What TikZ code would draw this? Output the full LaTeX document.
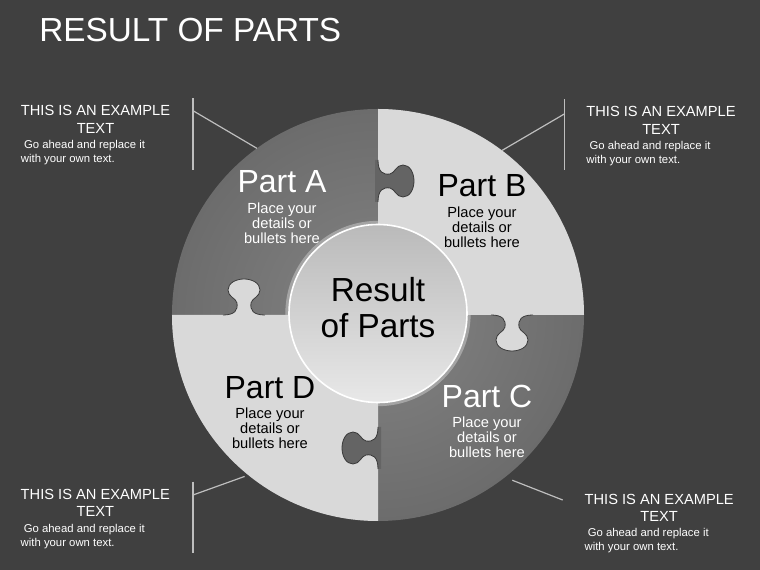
\documentclass[tikz,border=0pt]{standalone}
\usepackage{fontspec}
\setmainfont{Liberation Sans}
\usetikzlibrary{positioning}
\definecolor{slidebg}{RGB}{64,64,64}
\definecolor{partlight}{RGB}{217,217,217}
\definecolor{partdark}{RGB}{100,100,100}
\definecolor{partinner}{RGB}{132,132,132}
\definecolor{partouter}{RGB}{84,84,84}
\definecolor{knobline}{RGB}{58,58,58}
\definecolor{calloutline}{RGB}{190,190,190}
\definecolor{hubtop}{RGB}{186,186,186}
\definecolor{hubbottom}{RGB}{232,232,232}
\pgfdeclareradialshading{partshade}{\pgfpoint{0bp}{0bp}}{color(0bp)=(partinner); color(50bp)=(partouter)}

% one puzzle knob: position, rotation, fill colour
\newcommand{\knob}[3]{%
  \begin{scope}[shift={#1}, rotate=#2]
    \fill[#3] (-21,0) .. controls (-9,0) and (-6,5) .. (-7,12) .. controls (-8,17) and (-16,18) .. (-16,25)
      .. controls (-16,32) and (-8,36) .. (0,36) .. controls (8,36) and (16,32) .. (16,25)
      .. controls (16,18) and (8,17) .. (7,12) .. controls (6,5) and (9,0) .. (21,0)
      -- (21,-3) -- (-21,-3) -- cycle;
    \draw[knobedge] (-21,0) .. controls (-9,0) and (-6,5) .. (-7,12) .. controls (-8,17) and (-16,18) .. (-16,25)
      .. controls (-16,32) and (-8,36) .. (0,36) .. controls (8,36) and (16,32) .. (16,25)
      .. controls (16,18) and (8,17) .. (7,12) .. controls (6,5) and (9,0) .. (21,0);
  \end{scope}}

\begin{document}
\begin{tikzpicture}[
    x=0.75pt, y=0.75pt,
    parttitle/.style={font=\fontsize{24}{26}\selectfont, inner sep=0pt},
    partdetail/.style={font=\fontsize{11}{11.25}\selectfont, align=center, inner sep=0pt},
    callhead/.style={text=white, font=\fontsize{11}{13}\selectfont, align=center, inner sep=0pt},
    callbody/.style={text=white, font=\fontsize{8.5}{10.5}\selectfont, align=left, inner sep=0pt},
    callline/.style={draw=calloutline, line width=0.9pt},
    knobedge/.style={draw=knobline, line width=0.6pt},
    hubglow/.style={draw=partlight, line width=2.5pt, opacity=0.45},
]
    \useasboundingbox (-378,-255) rectangle (382,315);
    \fill[slidebg] (-378,-255) rectangle (382,315);

    \node[anchor=west, text=white, inner sep=0pt, font=\fontsize{25}{28}\selectfont] (title) at (-339,285) {RESULT OF PARTS};

    % the wheel
    \node[circle, minimum size=309pt, inner sep=0pt, outer sep=0pt, shade, shading=partshade] (wheel) at (0,0) {};
    \fill[partlight] (0,0) -- (206,0) arc[start angle=0, end angle=90, radius=206] -- cycle;
    \fill[partlight] (0,0) -- (-206,0) arc[start angle=180, end angle=270, radius=206] -- cycle;

    \knob{(0,134)}{-90}{partdark}
    \knob{(134,0)}{180}{partlight}
    \knob{(0,-133)}{90}{partdark}
    \knob{(-134,0)}{0}{partlight}

    \draw[hubglow] (0,1.5) circle[radius=91];
    \node[circle, minimum size=133.5pt, inner sep=0pt, top color=hubtop, bottom color=hubbottom, draw=white, line width=1.2pt] (hub) at (0,1.5) {};
    \node[align=center, inner sep=0pt, font=\fontsize{25}{27}\selectfont] (hubtext) at ([yshift=4.4pt]hub.center) {Result\\of Parts};

    % part labels
    \node[parttitle, text=white] (partA) at (-96,133) {Part A};
    \node[partdetail, text=white, below=6.75pt of partA] (detailA) {Place your\\details or\\bullets here};
    \node[parttitle] (partB) at (104,129) {Part B};
    \node[partdetail, below=6.75pt of partB] (detailB) {Place your\\details or\\bullets here};
    \node[parttitle, text=white] (partC) at (109,-81) {Part C};
    \node[partdetail, text=white, below=6.75pt of partC] (detailC) {Place your\\details or\\bullets here};
    \node[parttitle] (partD) at (-108,-72.5) {Part D};
    \node[partdetail, below=6.75pt of partD] (detailD) {Place your\\details or\\bullets here};

    % callouts
    \node[callhead] (tlhead) at (-282.5,195.7) {THIS IS AN EXAMPLE\\TEXT};
    \node[callbody, below=5pt of tlhead.south west, anchor=north west] (tlbody) {\ Go ahead and replace it\\with your own text.};
    \node[callhead] (trhead) at (283,194.6) {THIS IS AN EXAMPLE\\TEXT};
    \node[callbody, below=5pt of trhead.south west, anchor=north west] (trbody) {\ Go ahead and replace it\\with your own text.};
    \node[callhead] (blhead) at (-282.7,-188) {THIS IS AN EXAMPLE\\TEXT};
    \node[callbody, below=5pt of blhead.south west, anchor=north west] (blbody) {\ Go ahead and replace it\\with your own text.};
    \node[callhead] (brhead) at (281.2,-192.8) {THIS IS AN EXAMPLE\\TEXT};
    \node[callbody, below=5pt of brhead.south west, anchor=north west] (brbody) {\ Go ahead and replace it\\with your own text.};

    \coordinate (tltop) at (-185,216.7);
    \coordinate (tlbot) at (-185,145);
    \coordinate (tljoin) at (-185,204.3);
    \coordinate (trtop) at (186.3,215.7);
    \coordinate (trbot) at (186.3,145);
    \coordinate (trjoin) at (186.3,201);
    \coordinate (bltop) at (-185,-166.7);
    \coordinate (blbot) at (-185,-237.7);
    \coordinate (bljoin) at (-185,-180);
    \coordinate (brtop) at (184.7,-171);
    \coordinate (brbot) at (184.7,-243.3);
    \coordinate (brjoin) at (184.7,-185);

    \draw[callline] (tltop) -- (tlbot);
    \draw[callline] (tljoin) -- (wheel.126);
    \draw[callline] (trtop) -- (trbot);
    \draw[callline] (trjoin) -- (wheel.53);
    \draw[callline] (bltop) -- (blbot);
    \draw[callline, shorten >=3pt] (bljoin) -- (wheel.231);
    \draw[callline, shorten >=6pt] (brjoin) -- (wheel.-52);
\end{tikzpicture}
\end{document}
